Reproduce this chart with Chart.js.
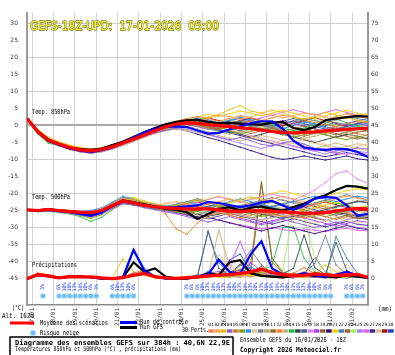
<!DOCTYPE html>
<html><head><meta charset="utf-8">
<script src="https://cdn.jsdelivr.net/npm/chart.js@4/dist/chart.umd.min.js"></script>
<style>html,body{margin:0;padding:0;background:#fff}canvas{display:block}</style>
</head><body>
<canvas id="c" width="395" height="355"></canvas>
<script>
// ---------- DATA ----------
const hours = [0,12,24,36,48,60,72,84,96,108,120,132,144,156,168,180,192,204,216,228,240,252,264,276,288,300,312,324,336,348,360,372,384];
const dateLabels = ['17/01','18/01','19/01','20/01','21/01','22/01','23/01','24/01','25/01','26/01','27/01','28/01','29/01','30/01','31/01','01/02'];
const dateHours = [6,30,54,78,102,126,150,174,198,222,246,270,294,318,342,366];
const leftTicks = [-45,-40,-35,-30,-25,-20,-15,-10,-5,0,5,10,15,20,25,30];
const rightTicks = [0,5,10,15,20,25,30,35,40,45,50,55,60,65,70,75];

const mean850 = [2.0,-1.8,-4.3,-5.5,-6.5,-7.2,-7.5,-7.1,-6.3,-5.2,-4.0,-2.8,-1.6,-0.4,0.4,0.7,0.6,0.2,-0.1,-0.4,-0.7,-1.0,-1.4,-1.8,-2.1,-2.2,-2.1,-1.9,-1.6,-1.4,-1.2,-1.0,-0.8];
const ctrl850 = [2.0,-1.8,-4.5,-5.7,-6.8,-7.4,-7.8,-7.3,-6.4,-5.0,-3.6,-2.0,-1.0,-0.4,-0.3,-0.5,-1.5,-2.4,-2.2,-1.2,-0.3,0.6,1.2,1.2,-1.0,-4.5,-6.5,-7.0,-7.2,-6.9,-7.0,-7.8,-9.3];
const gfs850 = [2.0,-1.6,-4.2,-5.4,-6.5,-7.0,-7.2,-6.8,-5.8,-4.8,-3.4,-2.0,-0.8,0.3,1.0,1.5,1.6,1.0,0.6,0.7,0.5,0.3,0.2,0.8,1.0,-0.8,-1.4,-0.5,1.5,2.0,2.4,2.7,2.6];

const mean500 = [-24.8,-25.0,-24.7,-25.0,-25.3,-25.5,-25.6,-25.0,-23.6,-22.2,-22.8,-23.5,-23.9,-24.2,-24.4,-24.6,-24.5,-24.5,-24.8,-25.2,-25.3,-25.1,-25.1,-25.2,-25.4,-25.6,-25.8,-25.8,-25.6,-25.2,-24.7,-24.4,-24.6];
const ctrl500 = [-24.8,-25.1,-24.8,-25.2,-25.5,-26.0,-26.6,-25.6,-23.8,-22.4,-22.9,-23.5,-24.0,-24.2,-24.0,-23.8,-23.5,-22.5,-22.8,-23.4,-24.0,-23.5,-22.6,-22.2,-23.5,-24.8,-23.5,-21.5,-21.0,-21.3,-23.5,-26.5,-26.0];
const gfs500 = [-24.8,-25.0,-24.6,-25.0,-25.2,-25.6,-26.0,-25.2,-23.5,-22.0,-22.6,-23.2,-23.8,-24.5,-24.8,-25.5,-27.5,-26.0,-24.5,-24.0,-25.0,-24.2,-23.8,-24.5,-25.0,-24.0,-23.0,-21.5,-20.5,-19.0,-17.8,-18.0,-18.6];

const meanPrec = [0,1.2,0.8,0.2,0.6,0.5,0.5,0.2,0.0,0.3,1.0,1.5,0.6,0.2,0.1,0.3,0.5,0.8,1.0,1.2,1.5,2.0,2.8,1.8,1.2,0.9,1.0,1.4,1.2,0.9,1.1,1.2,0.4];
const ctrlPrec = [0,1.2,0.8,0.2,0.6,0.5,0.4,0,0,0.4,8.4,2.4,0.6,0,0,0.2,0.6,1.2,5.6,2.0,1.4,7.2,11.0,3.0,1.2,0.8,1.6,1.0,0.6,1.2,2.0,1.0,0.3];
const gfsPrec = [0,1.0,0.7,0.2,0.5,0.6,0.4,0,0,0.3,4.8,2.0,3.0,0.6,0,0,0.4,1.6,1.0,4.8,5.4,1.6,0.8,0.6,0.4,0.8,1.2,0.8,0.6,0.4,1.0,0.6,0.2];

const memberColors = ['#f08060','#ffa050','#e8c000','#9060d0','#d08030','#80a020','#3090f0','#e0c8a0','#708090','#b0b060',
 '#8b7030','#ff8020','#d0b080','#20c040','#304050','#406080','#e080ff','#a040f0','#906020','#301080',
 '#f0d000','#4080c0','#a06030','#a0f060','#a080ff','#e060e0','#4020a0','#e0c080','#a01010','#2040c0'];

const members850 = [
[2.0,-1.5,-4.0,-5.8,-6.8,-7.0,-7.2,-6.8,-6.0,-4.9,-3.6,-2.4,-1.2,-0.2,0.5,1.0,1.6,1.2,0.4,-0.6,-1.2,-0.8,0.2,0.8,0.3,-0.5,-1.4,-2.0,-1.2,-0.3,0.6,1.1,0.8],
[2.0,-2.0,-4.5,-5.2,-6.2,-7.4,-7.8,-7.5,-6.6,-5.0,-3.8,-2.5,-1.0,0.2,1.0,1.5,1.2,2.0,3.0,2.6,1.8,2.4,3.5,3.0,2.2,2.8,3.6,3.2,2.4,1.6,2.2,3.0,3.4],
[2.0,-1.2,-3.5,-5.0,-6.0,-6.8,-7.0,-6.9,-6.0,-4.6,-3.4,-2.2,-1.3,-0.5,0.2,0.8,1.6,2.4,3.2,4.6,5.8,4.2,3.6,4.5,3.8,2.5,1.8,2.6,3.8,3.0,2.2,1.5,1.0],
[2.0,-2.2,-4.8,-6.0,-7.0,-7.6,-8.2,-7.6,-6.8,-5.6,-4.5,-3.3,-2.2,-1.5,-0.8,-0.6,-1.4,-2.6,-3.5,-4.2,-3.6,-4.5,-5.6,-6.0,-5.2,-4.6,-5.5,-6.8,-7.6,-8.2,-7.4,-6.6,-7.0],
[2.0,-1.6,-4.2,-5.3,-6.6,-7.3,-7.4,-6.8,-6.2,-5.4,-4.2,-3.0,-1.8,-0.8,0.0,0.6,0.2,-0.6,-1.2,-0.5,0.5,1.3,0.8,-0.4,-1.5,-2.4,-1.8,-0.6,0.4,-0.5,-1.6,-2.5,-3.0],
[2.0,-2.4,-5.0,-5.8,-6.4,-7.0,-7.2,-7.0,-6.4,-5.5,-4.4,-3.0,-1.9,-1.0,-0.4,0.4,0.9,0.3,-0.4,-1.6,-2.4,-1.8,-1.0,-1.5,-2.6,-3.4,-2.8,-2.0,-2.6,-3.6,-4.2,-3.5,-2.8],
[2.0,-1.9,-4.4,-5.6,-6.7,-7.1,-7.6,-7.3,-6.5,-5.3,-3.9,-2.6,-1.4,-0.3,0.6,1.4,2.2,1.6,0.8,1.5,2.4,1.6,0.6,-0.4,-1.0,0.0,1.0,0.4,-0.8,-1.8,-1.0,0.2,0.6],
[2.0,-1.4,-3.9,-5.1,-6.2,-6.9,-7.3,-7.2,-6.6,-5.8,-4.8,-3.6,-2.5,-1.6,-1.0,-1.6,-2.2,-3.0,-2.4,-1.4,-2.0,-3.2,-4.0,-4.8,-5.8,-5.0,-4.0,-4.6,-5.6,-6.4,-7.0,-6.2,-5.4],
[2.0,-2.1,-4.6,-5.7,-6.9,-7.8,-8.0,-7.4,-6.2,-4.8,-3.4,-2.2,-1.0,0.0,0.8,1.2,0.4,-0.4,0.6,1.4,0.8,-0.2,-1.2,-0.6,0.4,1.2,2.0,1.4,0.6,1.6,2.4,2.0,1.4],
[2.0,-1.7,-4.1,-5.4,-6.3,-7.0,-7.3,-7.0,-6.4,-5.6,-4.6,-3.2,-2.0,-0.9,-0.2,0.3,-0.2,-1.0,-1.8,-2.6,-2.0,-1.2,-0.4,-1.2,-2.2,-3.0,-3.8,-3.2,-2.4,-1.6,-2.4,-3.4,-4.2],
[2.0,-1.8,-4.6,-5.9,-6.8,-7.5,-7.9,-7.4,-6.7,-5.5,-4.1,-2.9,-1.6,-0.6,0.2,0.6,0.0,-0.8,-0.2,0.6,1.4,1.0,0.0,-1.0,-1.8,-1.0,-0.2,-1.0,-2.0,-2.8,-2.0,-1.2,-1.6],
[2.0,-1.3,-3.8,-5.0,-6.0,-6.7,-7.0,-6.7,-5.8,-4.5,-3.2,-2.0,-0.8,0.3,1.2,2.0,2.6,2.0,1.2,2.0,2.8,2.2,1.4,2.2,3.0,2.4,1.6,0.8,1.6,2.6,3.4,2.8,2.2],
[2.0,-2.0,-4.7,-6.1,-7.2,-7.8,-8.3,-7.8,-7.0,-6.0,-4.8,-3.4,-2.4,-1.4,-0.6,-0.2,-1.0,-2.0,-3.0,-3.8,-4.6,-3.8,-3.0,-3.6,-4.4,-5.2,-6.0,-6.8,-6.0,-5.2,-6.0,-6.8,-7.4],
[2.0,-2.6,-5.2,-6.0,-6.8,-7.2,-7.6,-7.2,-6.2,-5.0,-3.7,-2.4,-1.2,-0.2,0.4,0.8,1.2,0.4,-0.6,-1.4,-0.6,0.4,1.0,0.2,-0.8,-1.6,-0.8,0.2,1.2,1.8,0.8,-0.2,-0.8],
[2.0,-1.6,-4.0,-5.2,-6.4,-7.1,-7.4,-7.1,-6.3,-5.1,-3.9,-2.7,-1.5,-0.5,0.1,0.5,0.0,-0.6,-1.2,-1.9,-2.6,-3.4,-2.6,-1.8,-2.6,-3.4,-4.2,-5.0,-4.2,-3.4,-2.6,-3.2,-4.0],
[2.0,-1.9,-4.3,-5.6,-6.6,-7.2,-7.5,-7.0,-6.1,-4.9,-3.6,-2.3,-1.0,0.2,1.0,1.8,1.2,0.4,-0.4,0.4,1.2,2.0,1.2,0.4,1.2,2.0,1.2,0.4,-0.4,-1.2,-0.4,0.4,1.2],
[2.0,-1.5,-4.1,-5.5,-6.5,-7.2,-7.7,-7.4,-6.8,-5.7,-4.5,-3.2,-2.0,-1.0,-0.4,0.2,0.8,0.2,-0.6,-1.4,-2.2,-3.0,-3.8,-4.6,-5.4,-6.2,-7.0,-7.6,-7.0,-8.0,-8.6,-8.0,-8.4],
[2.0,-2.2,-4.8,-5.9,-6.8,-7.4,-7.7,-7.3,-6.6,-5.5,-4.3,-3.1,-1.9,-0.9,-0.2,0.2,-0.4,-1.2,-0.6,0.4,1.2,0.6,-0.2,0.6,1.4,0.6,-0.2,-1.0,-1.8,-1.0,-0.2,0.6,0.0],
[2.0,-1.7,-4.2,-5.4,-6.4,-7.0,-7.3,-6.9,-6.1,-5.0,-3.8,-2.6,-1.4,-0.4,0.4,1.0,0.6,-0.2,-1.0,-0.4,0.4,-0.4,-1.2,-2.0,-2.8,-2.0,-1.2,-2.0,-2.8,-3.6,-2.8,-2.0,-1.6],
[2.0,-2.0,-4.5,-5.8,-6.9,-7.6,-8.1,-7.7,-6.9,-5.8,-4.6,-3.4,-2.3,-1.5,-1.0,-1.6,-2.6,-3.6,-4.4,-5.4,-6.4,-7.4,-8.4,-9.4,-10.0,-9.6,-9.0,-9.6,-10.2,-9.6,-9.0,-9.8,-10.2],
[2.0,-1.2,-3.6,-4.8,-5.8,-6.5,-6.9,-6.6,-5.9,-4.7,-3.5,-2.3,-1.1,0.0,0.9,1.6,2.4,3.2,2.6,3.4,4.2,3.6,2.8,3.6,4.4,3.6,2.8,2.0,2.8,3.6,4.4,3.6,3.0],
[2.0,-1.8,-4.3,-5.6,-6.7,-7.3,-7.6,-7.2,-6.4,-5.3,-4.0,-2.8,-1.6,-0.6,0.0,0.4,-0.2,-1.0,-1.6,-2.2,-1.6,-0.8,0.0,-0.6,-1.4,-2.2,-1.6,-0.8,0.0,0.8,0.2,-0.6,-1.2],
[2.0,-2.3,-4.9,-6.0,-7.0,-7.5,-7.8,-7.3,-6.5,-5.4,-4.2,-3.0,-1.8,-0.8,-0.2,0.6,1.2,0.6,0.0,-0.8,-1.6,-2.4,-1.6,-0.8,-1.6,-2.4,-3.2,-2.4,-1.6,-2.4,-3.2,-4.0,-3.6],
[2.0,-1.6,-4.0,-5.3,-6.3,-7.0,-7.3,-7.0,-6.2,-5.1,-3.9,-2.6,-1.3,-0.2,0.6,1.2,0.6,0.0,0.8,1.6,0.8,0.0,-0.8,-1.6,-0.8,0.0,0.8,1.6,0.8,0.0,-0.8,0.0,0.6],
[2.0,-1.9,-4.4,-5.7,-6.8,-7.4,-7.9,-7.6,-6.9,-5.9,-4.7,-3.5,-2.3,-1.2,-0.6,-1.2,-2.0,-2.8,-3.6,-4.4,-5.2,-6.0,-6.8,-6.0,-5.2,-6.0,-6.8,-7.6,-8.4,-7.6,-6.8,-7.6,-8.0],
[2.0,-1.4,-3.9,-5.1,-6.1,-6.8,-7.1,-6.8,-6.0,-4.9,-3.6,-2.4,-1.2,-0.2,0.6,1.4,2.0,1.4,0.6,-0.2,0.6,1.4,2.2,3.0,3.8,4.6,3.8,3.0,3.8,4.6,3.8,3.0,2.4],
[2.0,-2.1,-4.6,-5.8,-6.9,-7.6,-8.0,-7.5,-6.7,-5.5,-4.3,-3.0,-1.8,-0.8,-0.2,0.4,-0.2,-0.8,-1.4,-2.2,-3.0,-3.8,-4.6,-5.4,-6.2,-7.0,-7.8,-8.6,-9.2,-8.6,-8.0,-8.6,-9.2],
[2.0,-1.5,-4.0,-5.2,-6.2,-6.9,-7.2,-6.9,-6.1,-5.0,-3.8,-2.5,-1.3,-0.3,0.4,1.0,0.4,-0.4,-1.2,-2.0,-2.8,-3.6,-4.4,-5.2,-4.4,-3.6,-4.4,-5.2,-6.0,-6.8,-6.2,-5.4,-6.0],
[2.0,-1.9,-4.5,-5.7,-6.7,-7.3,-7.7,-7.3,-6.4,-5.2,-3.9,-2.6,-1.4,-0.4,0.4,1.0,1.6,2.2,1.4,0.6,1.4,2.2,1.4,0.6,-0.2,0.6,1.4,2.2,1.4,0.6,-0.2,0.6,1.2],
[2.0,-1.7,-4.3,-5.5,-6.5,-7.2,-7.6,-7.2,-6.3,-5.1,-3.8,-2.5,-1.3,-0.3,0.5,1.1,0.5,-0.3,0.5,1.3,2.1,1.3,0.5,-0.3,0.5,1.3,0.5,-0.3,-1.1,-0.3,0.5,1.3,2.0]
];

const members500 = [
[-24.8,-25.2,-24.6,-25.3,-25.6,-26.0,-26.4,-25.2,-23.4,-21.8,-22.4,-23.2,-23.8,-24.4,-24.0,-23.2,-24.0,-24.8,-25.6,-24.8,-24.0,-24.8,-25.6,-26.4,-25.6,-24.8,-24.0,-23.2,-24.0,-24.8,-25.6,-24.8,-24.2],
[-24.8,-24.9,-24.4,-24.9,-25.1,-25.4,-25.3,-24.6,-23.0,-21.4,-22.0,-23.0,-23.4,-23.0,-22.4,-23.2,-24.0,-23.2,-22.4,-21.6,-22.4,-23.2,-22.4,-21.6,-20.8,-21.6,-22.4,-23.2,-22.4,-21.6,-20.8,-21.4,-22.0],
[-24.8,-25.1,-24.8,-25.2,-25.5,-25.8,-25.9,-25.3,-23.8,-22.0,-21.6,-22.6,-23.4,-24.0,-23.4,-22.6,-21.8,-22.6,-23.4,-22.6,-21.8,-21.0,-21.8,-22.6,-23.4,-24.2,-25.0,-24.2,-23.4,-22.6,-23.4,-24.2,-23.6],
[-24.8,-25.3,-25.0,-25.4,-25.8,-26.3,-26.8,-26.0,-24.4,-23.0,-23.4,-24.2,-24.8,-25.4,-26.0,-26.8,-27.6,-28.4,-27.6,-26.8,-27.6,-28.4,-29.2,-28.4,-27.6,-28.4,-29.2,-30.0,-29.2,-28.4,-29.2,-30.0,-30.4],
[-24.8,-24.8,-24.6,-25.0,-25.2,-25.6,-26.0,-25.4,-23.6,-22.2,-22.8,-23.4,-24.0,-24.6,-25.2,-24.4,-23.6,-24.4,-25.2,-26.0,-25.2,-24.4,-25.2,-26.0,-26.8,-26.0,-25.2,-26.0,-26.8,-27.6,-26.8,-26.0,-26.6],
[-24.8,-25.0,-24.7,-25.1,-25.6,-26.4,-27.4,-26.2,-24.0,-22.4,-23.0,-23.8,-24.2,-24.8,-25.4,-26.0,-25.2,-24.4,-23.6,-24.4,-25.2,-26.0,-26.8,-26.0,-25.2,-24.4,-25.2,-26.0,-26.8,-26.0,-25.2,-24.4,-25.0],
[-24.8,-25.0,-24.5,-24.8,-25.0,-25.2,-25.0,-24.2,-22.6,-20.8,-21.6,-22.6,-23.2,-23.8,-23.2,-22.4,-23.2,-24.0,-23.2,-22.4,-21.6,-22.4,-23.2,-24.0,-23.2,-22.4,-21.6,-20.8,-21.6,-22.4,-21.6,-20.8,-21.2],
[-24.8,-25.2,-24.9,-25.3,-25.7,-26.2,-26.6,-25.8,-24.2,-22.8,-23.2,-23.8,-24.2,-24.6,-25.2,-25.8,-26.4,-27.2,-26.4,-25.6,-26.4,-27.2,-28.0,-27.2,-26.4,-27.2,-28.0,-28.8,-28.0,-27.2,-28.0,-28.8,-28.2],
[-24.8,-24.9,-24.6,-24.9,-25.2,-25.5,-25.7,-25.1,-23.5,-22.0,-22.6,-23.4,-23.9,-24.3,-23.6,-22.8,-22.0,-22.8,-23.6,-24.4,-23.6,-22.8,-22.0,-21.2,-22.0,-22.8,-23.6,-22.8,-22.0,-21.2,-20.4,-21.2,-21.8],
[-24.8,-25.1,-24.8,-25.2,-25.4,-25.7,-25.8,-25.2,-23.8,-22.5,-23.0,-23.6,-24.0,-24.4,-24.8,-25.4,-26.0,-25.2,-24.4,-25.2,-26.0,-25.2,-24.4,-23.6,-24.4,-25.2,-26.0,-26.8,-26.0,-25.2,-24.4,-25.2,-25.8],
[-24.8,-25.0,-24.7,-25.0,-25.3,-25.6,-25.9,-25.2,-23.4,-21.6,-22.2,-23.0,-23.6,-24.2,-24.8,-25.6,-24.8,-24.0,-24.8,-25.6,-26.4,-27.2,-26.4,-25.6,-24.8,-25.6,-26.4,-27.2,-28.0,-27.2,-26.4,-27.2,-27.6],
[-24.8,-24.8,-24.4,-24.8,-25.0,-25.4,-25.8,-25.0,-23.2,-21.8,-22.4,-23.2,-24.0,-26.0,-30.4,-32.0,-28.6,-26.4,-25.6,-26.4,-27.2,-26.4,-25.6,-24.8,-25.6,-26.4,-27.2,-26.4,-25.6,-24.8,-25.6,-26.4,-26.0],
[-24.8,-25.2,-24.9,-25.4,-25.8,-26.4,-27.0,-26.2,-24.6,-23.0,-23.2,-23.8,-24.2,-24.6,-25.0,-24.2,-23.4,-22.6,-23.4,-24.2,-25.0,-24.2,-23.4,-22.6,-21.8,-22.6,-23.4,-24.2,-25.0,-25.8,-25.0,-24.2,-24.6],
[-24.8,-25.4,-25.2,-25.6,-26.0,-26.8,-28.2,-27.0,-24.8,-23.0,-23.4,-24.0,-24.4,-24.8,-25.2,-24.4,-25.2,-26.0,-25.2,-24.4,-23.6,-22.8,-23.6,-24.4,-25.2,-24.4,-23.6,-22.8,-22.0,-22.8,-23.6,-24.4,-24.0],
[-24.8,-25.0,-24.8,-25.1,-25.4,-25.7,-25.9,-25.3,-23.9,-22.6,-23.1,-23.7,-24.1,-24.5,-24.9,-25.5,-26.1,-26.7,-26.1,-25.5,-24.9,-25.5,-26.1,-26.7,-27.3,-26.7,-26.1,-25.5,-24.9,-25.5,-26.1,-26.7,-27.0],
[-24.8,-25.1,-24.7,-25.0,-25.3,-25.5,-25.4,-24.6,-22.8,-21.2,-21.8,-22.8,-23.4,-23.8,-23.2,-22.4,-21.6,-22.4,-23.2,-24.0,-24.8,-24.0,-23.2,-22.4,-23.2,-24.0,-24.8,-25.6,-24.8,-24.0,-23.2,-22.4,-22.8],
[-24.8,-24.9,-24.5,-24.9,-25.1,-25.4,-25.6,-25.0,-23.6,-22.4,-23.0,-23.6,-24.0,-24.4,-24.0,-23.4,-22.6,-21.8,-21.0,-21.8,-22.6,-21.8,-21.0,-20.2,-21.0,-21.8,-20.6,-19.0,-16.8,-14.2,-13.4,-15.8,-17.0],
[-24.8,-25.2,-24.9,-25.3,-25.6,-26.0,-26.2,-25.6,-24.0,-22.6,-23.2,-23.8,-24.4,-25.0,-25.6,-26.4,-27.2,-26.4,-25.6,-26.4,-27.2,-28.0,-28.8,-28.0,-27.2,-26.4,-27.2,-28.0,-28.8,-29.6,-28.8,-28.0,-28.4],
[-24.8,-25.0,-24.6,-25.0,-25.2,-25.6,-25.8,-25.2,-23.6,-22.0,-22.6,-23.4,-23.9,-24.4,-24.9,-25.4,-24.6,-23.8,-23.0,-23.8,-24.6,-25.4,-24.6,-23.8,-23.0,-22.2,-23.0,-23.8,-24.6,-23.8,-23.0,-22.2,-22.6],
[-24.8,-25.1,-24.8,-25.3,-25.7,-26.1,-26.5,-25.7,-24.0,-22.6,-23.0,-23.6,-24.0,-24.4,-25.0,-25.6,-26.2,-27.0,-27.8,-28.6,-29.4,-30.2,-31.0,-30.2,-29.4,-30.2,-31.0,-31.8,-31.0,-30.2,-29.4,-30.2,-30.6],
[-24.8,-24.9,-24.5,-24.8,-25.0,-25.3,-25.4,-24.8,-23.2,-21.4,-21.2,-22.2,-23.0,-23.6,-24.0,-23.2,-22.4,-21.6,-20.8,-21.6,-22.4,-21.6,-20.8,-20.0,-19.2,-20.0,-20.8,-21.6,-20.8,-20.0,-19.2,-18.6,-19.0],
[-24.8,-25.0,-24.7,-25.1,-25.4,-25.8,-26.0,-25.4,-23.8,-22.2,-22.8,-23.6,-24.0,-24.4,-24.8,-24.0,-23.2,-24.0,-24.8,-25.6,-24.8,-24.0,-23.2,-24.0,-24.8,-25.6,-26.4,-25.6,-24.8,-24.0,-23.2,-22.4,-22.0],
[-24.8,-25.2,-24.8,-25.2,-25.5,-25.9,-26.3,-25.5,-23.9,-22.4,-22.9,-23.6,-24.1,-24.6,-25.2,-25.8,-25.0,-24.2,-25.0,-25.8,-26.6,-25.8,-25.0,-25.8,-26.6,-27.4,-26.6,-25.8,-25.0,-25.8,-26.6,-27.4,-27.0],
[-24.8,-24.9,-24.6,-25.0,-25.3,-25.6,-25.8,-25.1,-23.4,-21.8,-22.4,-23.2,-23.7,-24.1,-23.5,-22.9,-23.7,-24.5,-23.7,-22.9,-22.1,-22.9,-23.7,-24.5,-25.3,-24.5,-23.7,-22.9,-23.7,-24.5,-25.3,-24.5,-23.9],
[-24.8,-25.1,-24.8,-25.2,-25.6,-26.0,-26.4,-25.8,-24.2,-22.8,-23.2,-23.8,-24.2,-24.6,-25.0,-25.6,-26.2,-25.4,-24.6,-25.4,-26.2,-27.0,-27.8,-27.0,-26.2,-25.4,-26.2,-27.0,-27.8,-28.6,-27.8,-27.0,-27.4],
[-24.8,-25.0,-24.6,-24.9,-25.2,-25.4,-25.5,-24.8,-23.0,-21.4,-22.0,-22.9,-23.5,-24.0,-24.6,-25.4,-26.2,-27.0,-27.8,-28.6,-29.2,-29.8,-30.4,-30.0,-30.6,-31.0,-30.4,-30.8,-31.2,-30.6,-30.2,-30.8,-31.0],
[-24.8,-25.2,-25.0,-25.4,-25.8,-26.3,-26.7,-25.9,-24.2,-22.8,-23.3,-24.0,-24.5,-25.0,-25.6,-26.2,-26.8,-27.4,-26.6,-25.8,-26.6,-27.4,-28.2,-29.0,-28.2,-27.4,-28.2,-29.0,-29.8,-29.0,-28.2,-29.0,-29.4],
[-24.8,-24.9,-24.7,-25.0,-25.2,-25.5,-25.7,-25.1,-23.6,-22.2,-22.8,-23.5,-23.9,-24.3,-24.7,-25.3,-25.9,-25.1,-24.3,-23.5,-24.3,-25.1,-25.9,-26.7,-25.9,-25.1,-24.3,-25.1,-25.9,-26.7,-27.5,-26.7,-26.2],
[-24.8,-25.1,-24.7,-25.1,-25.4,-25.8,-26.1,-25.4,-23.7,-22.2,-22.7,-23.4,-23.9,-24.3,-23.7,-23.1,-22.5,-23.3,-24.1,-24.9,-24.1,-23.3,-24.1,-24.9,-25.7,-24.9,-24.1,-23.3,-22.5,-23.3,-24.1,-24.9,-25.2],
[-24.8,-25.0,-24.7,-25.0,-25.3,-25.6,-25.8,-25.2,-23.7,-22.3,-22.9,-23.6,-24.0,-24.4,-24.8,-24.2,-23.6,-24.4,-25.2,-24.6,-24.0,-24.8,-25.6,-26.4,-25.6,-24.8,-24.0,-24.8,-25.6,-26.4,-25.6,-24.8,-25.0]
];

const membersPrec = [
[0,1.2,0.8,0.2,0.6,0.5,0.3,0,0,0.4,1.8,2.2,0.4,0,0,0,0.6,1.2,0.8,1.4,2.0,1.2,3.0,1.6,0.8,0.4,0.6,1.2,0.8,0.4,1.0,0.6,0.2],
[0,1.5,1.0,0.3,0.4,0.8,0.5,0,0,0.2,1.2,3.0,0.6,0,0,0.4,0.2,0.6,1.8,1.0,0.6,1.4,2.2,0.8,0.4,1.2,2.0,1.0,0.6,0.2,0.8,1.6,0.4],
[0,1.0,0.6,0.1,0.8,0.4,0.6,0,0.2,5.8,2.0,1.0,0.2,0,0,0,0.4,0.8,0.4,0.6,1.2,0.8,1.6,2.4,1.0,0.6,0.4,0.8,1.6,0.8,0.4,1.2,0.6],
[0,0.8,0.5,0.2,0.6,0.7,0.4,0,0,0.3,1.4,1.6,0.4,0,0,0.2,0.8,1.4,2.2,1.0,0.6,4.6,2.4,1.2,0.6,0.2,0.8,0.4,0.2,0.6,1.2,0.8,0.4],
[0,1.6,1.2,0.4,0.5,0.6,0.3,0,0,0.4,1.0,2.4,0.8,0,0,0,0.2,0.4,0.8,1.6,2.8,1.4,0.8,0.4,0.2,0.6,1.0,1.8,1.2,0.6,0.4,0.8,0.2],
[0,1.3,0.9,0.2,0.7,0.5,0.6,0,0,0.2,0.8,1.2,0.4,0,0,0.2,0.6,1.0,0.6,0.4,1.0,2.0,1.2,0.6,0.4,1.4,0.8,0.4,0.2,0.6,0.4,1.0,0.4],
[0,1.1,0.7,0.3,0.4,0.8,0.4,0,0,0.6,8.6,3.2,0.6,0,0,0,0.4,2.2,1.0,0.6,1.6,3.4,2.0,1.0,0.6,0.4,0.8,1.4,0.6,0.4,0.2,0.6,0.2],
[0,0.9,0.6,0.1,0.3,0.6,0.5,0,0,0.2,0.6,1.0,0.2,0,0,0,0.2,0.6,14.6,2.0,0.8,0.4,1.0,0.6,0.2,0.4,0.2,0.6,0.4,0.2,0.6,0.4,0.2],
[0,1.4,0.8,0.2,0.6,0.4,0.5,0,0,0.4,1.6,2.0,0.6,0,0,0.2,1.2,0.8,0.6,1.2,3.8,8.4,4.0,1.6,0.8,0.6,1.6,4.4,12.6,4.0,1.2,0.6,0.2],
[0,1.0,0.7,0.2,0.5,0.6,0.4,0,0,0.2,1.0,1.4,0.4,0,0,0,0.4,0.6,1.0,0.6,0.4,0.8,1.2,0.8,0.4,0.2,0.6,1.0,0.6,0.8,1.4,0.8,0.4],
[0,1.2,0.8,0.3,0.6,0.5,0.3,0,0,0.3,1.4,1.8,0.4,0,0,0.2,0.6,1.4,0.8,0.6,1.2,1.8,27.8,6.0,1.8,0.8,0.4,0.8,0.6,0.4,0.8,0.6,0.2],
[0,1.6,1.0,0.4,0.8,0.6,0.5,0,0,0.2,1.2,1.6,0.6,0,0,0,0.4,0.8,1.6,1.0,0.6,1.2,2.4,1.4,0.8,1.6,3.2,1.6,0.8,0.4,0.6,1.0,0.4],
[0,0.8,0.6,0.2,0.4,0.5,0.4,0,0,0.2,0.8,1.2,0.2,0,0,0,0.2,0.6,14.2,4.0,1.2,0.6,1.4,0.8,0.4,0.6,2.0,1.0,0.6,0.4,0.2,0.4,0.2],
[0,1.3,0.9,0.3,0.6,0.7,0.5,0,0,0.4,1.6,2.2,0.6,0,0,0.2,0.4,0.8,0.6,1.0,1.8,1.2,2.0,4.0,15.0,15.2,6.0,2.0,1.2,0.6,0.4,0.8,0.3],
[0,1.0,0.7,0.2,0.5,0.6,0.4,0,0,0.3,1.0,1.4,0.4,0,0,0,0.4,1.0,0.8,1.4,4.2,2.0,1.0,0.6,1.4,3.0,12.8,3.2,1.2,0.6,0.4,0.6,0.2],
[0,1.2,0.8,0.2,0.6,0.5,0.6,0,0,0.2,1.2,1.8,0.4,0,0,0.2,0.8,14.0,3.0,1.2,0.8,1.6,1.0,0.6,0.4,0.8,0.6,0.4,1.2,10.6,2.4,0.8,0.3],
[0,1.4,0.9,0.3,0.5,0.7,0.4,0,0,0.4,1.4,2.0,0.6,0,0,0,0.4,0.6,1.2,2.4,11.0,3.0,1.4,0.8,0.6,1.0,0.8,0.6,0.4,0.8,1.2,0.6,0.3],
[0,1.1,0.8,0.2,0.4,0.6,0.5,0,0,0.2,1.0,1.4,0.4,0,0,0.2,0.6,1.0,0.8,0.6,1.4,2.2,1.6,1.0,0.6,0.4,1.0,1.6,1.0,0.6,0.4,0.8,0.3],
[0,0.9,0.6,0.1,0.4,0.5,0.3,0,0,0.3,1.2,1.6,0.4,0,0,0,0.4,0.8,0.6,1.0,2.0,4.6,28.4,5.0,1.6,0.8,0.6,1.0,0.8,0.4,0.6,0.8,0.2],
[0,1.2,0.8,0.3,0.6,0.6,0.4,0,0,0.4,1.6,2.2,0.6,0,0,0.2,0.6,1.2,0.8,1.4,2.6,1.4,0.8,0.6,1.2,0.8,0.4,0.6,1.0,0.6,0.4,0.6,0.2],
[0,1.0,0.7,0.2,0.5,0.5,0.4,0,0,0.2,1.0,1.4,0.4,0,0,0,0.2,0.6,1.0,0.8,0.6,1.2,2.0,1.2,0.6,0.4,0.8,1.4,4.0,2.0,0.8,0.4,0.2],
[0,1.3,0.9,0.3,0.6,0.6,0.5,0,0,0.3,1.4,1.8,0.6,0,0,0.2,0.8,13.8,4.6,1.6,0.8,0.6,1.2,0.8,0.4,0.6,1.0,0.6,0.4,12.4,6.0,1.6,0.4],
[0,1.1,0.8,0.2,0.5,0.7,0.4,0,0,0.2,1.0,1.6,0.4,0,0,0,0.4,0.8,1.4,0.8,0.6,1.8,3.6,1.4,0.8,0.6,0.4,0.8,0.6,0.4,0.6,0.8,0.2],
[0,1.2,0.9,0.3,0.6,0.5,0.4,0,0,0.3,1.2,1.8,0.4,0,0,0.2,0.6,1.0,0.8,1.2,1.8,1.0,0.6,1.4,2.6,20.0,18.0,6.0,2.0,0.8,0.6,0.4,0.2],
[0,1.0,0.7,0.2,0.4,0.6,0.4,0,0,0.2,0.8,1.2,0.4,0,0,0,0.4,0.8,1.6,4.2,10.8,3.6,1.4,0.8,0.6,1.0,0.8,0.4,0.6,1.0,0.6,0.4,0.2],
[0,1.4,1.0,0.3,0.6,0.6,0.5,0,0,0.4,1.4,2.0,0.6,0,0,0.2,0.6,1.2,1.0,0.8,1.4,2.0,1.2,0.8,0.4,0.6,1.0,0.8,0.6,0.4,0.8,1.2,0.4],
[0,1.1,0.8,0.2,0.5,0.5,0.4,0,0,0.3,1.2,1.6,0.4,0,0,0,0.4,0.8,0.6,1.0,1.6,2.4,1.4,0.8,0.4,0.6,1.2,6.2,2.0,0.8,0.4,0.6,0.2],
[0,1.0,0.7,0.2,0.4,0.6,0.4,0,0,0.2,1.0,1.4,0.4,0,0,0.2,0.6,1.0,7.0,3.0,1.2,0.8,1.0,6.0,2.4,1.0,0.6,0.4,0.8,1.2,4.2,1.0,0.3],
[0,1.3,0.9,0.3,0.6,0.7,0.5,0,0,0.3,1.4,1.8,0.6,0,0,0,0.4,0.6,1.0,1.4,2.0,1.2,0.8,0.6,1.0,1.6,1.0,0.6,0.4,0.6,1.0,0.8,0.3],
[0,1.2,0.8,0.2,0.5,0.6,0.4,0,0,0.3,1.2,1.6,0.4,0,0,0.2,0.6,1.0,1.4,5.4,7.2,2.4,1.4,1.0,0.6,0.4,0.6,1.0,0.8,0.6,0.4,0.6,0.2]
];

const snowHours = [18,36,42,48,54,60,66,72,78,96,102,108,114,120,180,186,192,198,204,210,216,222,228,234,240,246,252,258,264,270,276,282,288,294,300,306,312,318,324,330,336,342,360,366,372,378];
const snowPct = [3,6,10,10,13,16,10,6,3,6,10,13,10,6,3,6,6,10,13,16,16,13,10,10,13,16,13,10,13,16,19,16,13,10,13,16,13,10,10,6,6,3,3,6,6,3];

const titleText = 'GEFS-18Z-UPD:  17-01-2026  05:00';

// ---------- CHART ----------
Chart.defaults.font.family = '"DejaVu Sans", sans-serif';
function pts(vals){ return hours.map((h,i)=>({x:h, y:vals[i]})); }
const datasets = [];
function addMain(vals, color, width, axis, order){
  datasets.push({data:pts(vals), borderColor:color, backgroundColor:color, borderWidth:width, pointRadius:0, yAxisID:axis, order:order, fill:false});
}
addMain(mean850,'#ff0000',3.2,'y',0); addMain(mean500,'#ff0000',3.2,'y',0); addMain(meanPrec,'#ff0000',3.2,'y2',0);
addMain(ctrl850,'#0000ff',2.2,'y',1); addMain(ctrl500,'#0000ff',2.2,'y',1); addMain(ctrlPrec,'#0000ff',2.2,'y2',1);
addMain(gfs850,'#000000',2.2,'y',2); addMain(gfs500,'#000000',2.2,'y',2); addMain(gfsPrec,'#000000',2.2,'y2',2);
[[members850,'y'],[members500,'y'],[membersPrec,'y2']].forEach(([set,axis])=>{
  set.forEach((vals,k)=>{
    datasets.push({data:pts(vals), borderColor:memberColors[k], backgroundColor:memberColors[k], borderWidth:0.9,
      pointRadius:0.9, pointBorderWidth:0, pointStyle:'rect', yAxisID:axis, order:3, fill:false});
  });
});

const Y_MIN = -52.74, Y_MAX = 33.1, OFFSET = 45;

function txt(ctx, s, x, y, font, color, maxW, align){
  ctx.font = font; ctx.fillStyle = color; ctx.textAlign = align || 'left'; ctx.textBaseline = 'middle';
  if (maxW) ctx.fillText(s, x, y, maxW); else ctx.fillText(s, x, y);
}
function flake(ctx, x, y, r){
  ctx.fillStyle = '#a8dcff'; ctx.beginPath(); ctx.arc(x, y, r, 0, Math.PI*2); ctx.fill();
  ctx.strokeStyle = '#4aa8f0'; ctx.lineWidth = 0.7;
  for (let a=0; a<3; a++){ const ang = a*Math.PI/3; ctx.beginPath();
    ctx.moveTo(x-Math.cos(ang)*r*0.9, y-Math.sin(ang)*r*0.9); ctx.lineTo(x+Math.cos(ang)*r*0.9, y+Math.sin(ang)*r*0.9); ctx.stroke(); }
}

const overlay = {
  id:'overlay',
  afterDraw(chart){
    const ctx = chart.ctx, xs = chart.scales.x, ys = chart.scales.y, ca = chart.chartArea;
    ctx.save();
    // title
    ctx.font = '13px "DejaVu Sans"'; ctx.textAlign='left'; ctx.textBaseline='middle';
    ctx.lineJoin='round'; ctx.strokeStyle='#7a7a10'; ctx.lineWidth=1.4;
    ctx.strokeText(titleText, 30, 27, 189);
    ctx.fillStyle='#ffff40'; ctx.fillText(titleText, 30, 27, 189);
    // section labels
    const mono = '"DejaVu Sans Mono", monospace';
    txt(ctx,'Temp. 850hPa', 32, ys.getPixelForValue(4), '7px '+mono, '#000', 38);
    txt(ctx,'Temp. 500hPa', 32, ys.getPixelForValue(-21.1), '7px '+mono, '#000', 38);
    txt(ctx,'Précipitations', 32, ys.getPixelForValue(-41), '7px '+mono, '#000', 45);
    // snow risk
    snowHours.forEach((h,i)=>{
      const x = xs.getPixelForValue(h);
      flake(ctx, x, ca.bottom-9, 2.8);
      ctx.save(); ctx.translate(x, ca.bottom-18); ctx.rotate(-Math.PI/2);
      txt(ctx, snowPct[i]+'%', 0, 0, '5px '+mono, '#2040ff', 9, 'center');
      ctx.restore();
    });
    // bottom legend
    txt(ctx,'(°C)', 12, 308, '7px '+mono, '#000', 12);
    txt(ctx,'Alt. 162m', 2, 316, '7px '+mono, '#000', 32);
    txt(ctx,'(mm)', 378, 309, '7px '+mono, '#000', 14);
    ctx.fillStyle='#ff0000'; ctx.fillRect(10, 321.5, 24, 3);
    txt(ctx,'Moyenne des scénarios', 40, 323, '7px '+mono, '#000', 68);
    flake(ctx, 33, 333, 3);
    txt(ctx,'Risque neige', 40, 333, '7px '+mono, '#000', 39);
    ctx.fillStyle='#0000ff'; ctx.fillRect(120, 321, 17, 3);
    ctx.fillStyle='#000000'; ctx.fillRect(120, 326, 17, 3);
    txt(ctx,'Run de contrôle', 140, 322.5, '7px '+mono, '#000', 48);
    txt(ctx,'Run GFS', 140, 327.5, '7px '+mono, '#000', 23);
    txt(ctx,'30 Perts.', 182, 330, '7px '+mono, '#000', 27);
    memberColors.forEach((c,k)=>{
      const x0 = 208 + k*6.2;
      txt(ctx, String(k+1).padStart(2,'0'), x0+2.9, 325, '4.5px '+mono, '#000', 5.6, 'center');
      ctx.fillStyle = c; ctx.fillRect(x0+0.3, 329.3, 5.6, 3.4);
    });
    // info box
    ctx.strokeStyle='#000'; ctx.lineWidth=1.5; ctx.strokeRect(10, 337, 223, 22);
    txt(ctx,'Diagramme des ensembles GEFS sur 384h : 40,6N 22,9E', 15, 342.8, 'bold 7px '+mono, '#000', 216);
    txt(ctx,'Températures 850hPa et 500hPa (°C) , précipitations (mm)', 15, 349.5, '6.5px '+mono, '#000', 166);
    txt(ctx,'Ensemble GEFS du 16/01/2026 - 18Z', 240, 340.5, '7px '+mono, '#000', 106);
    txt(ctx,'Copyright 2026 Meteociel.fr', 240, 350, 'bold 7px '+mono, '#000', 101);
    ctx.restore();
  }
};

new Chart(document.getElementById('c'), {
  type:'line',
  data:{datasets},
  options:{
    responsive:false, animation:false, events:[],
    layout:{padding:0},
    plugins:{legend:{display:false}, tooltip:{enabled:false}},
    elements:{line:{tension:0}},
    scales:{
      x:{type:'linear', min:0, max:384, position:'bottom',
        afterBuildTicks:s=>{ s.ticks = dateHours.map(v=>({value:v})); },
        afterFit:s=>{ s.height = 50; },
        ticks:{callback:(v,i)=>dateLabels[i], minRotation:90, maxRotation:90, autoSkip:false,
          font:{size:6, family:'"DejaVu Sans Mono", monospace'}, color:'#333', padding:3},
        grid:{color:'#d4d4d4', lineWidth:1, drawTicks:false},
        border:{display:true, color:'#8a8a8a', width:1.5}
      },
      y:{type:'linear', position:'left', min:Y_MIN, max:Y_MAX,
        afterBuildTicks:s=>{ s.ticks = leftTicks.map(v=>({value:v})); },
        afterFit:s=>{ s.width = 27; },
        ticks:{font:{size:6}, color:'#333', padding:9, callback:v=>String(v)},
        grid:{drawTicks:false,
          color:c=>{ const v=c.tick&&c.tick.value; return (v===0)?'#a8a8a8':((v%10===0&&v>=-30)||v===-35||v===-40)?'#cccccc':'rgba(0,0,0,0)'; },
          lineWidth:c=>(c.tick&&c.tick.value===0)?2:1},
        border:{display:true, color:'#9a9a9a', width:2}
      },
      y2:{type:'linear', position:'right', min:Y_MIN+OFFSET, max:Y_MAX+OFFSET,
        afterBuildTicks:s=>{ s.ticks = rightTicks.map(v=>({value:v})); },
        afterFit:s=>{ s.width = 27; },
        ticks:{font:{size:6}, color:'#333', padding:3, callback:v=>String(v)},
        grid:{display:false, drawTicks:false},
        border:{display:true, color:'#9a9a9a', width:2}
      }
    }
  },
  plugins:[overlay]
});
</script>
</body></html>
